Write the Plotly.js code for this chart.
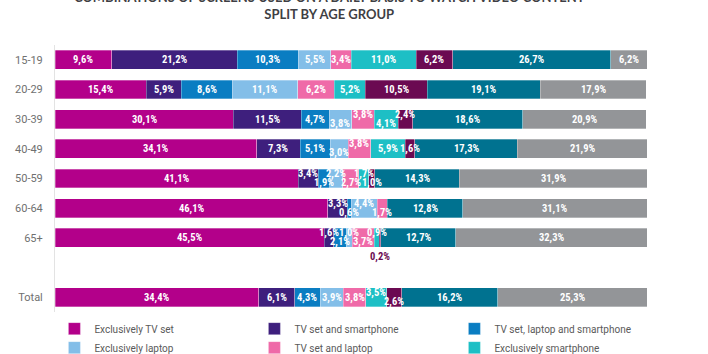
<!DOCTYPE html>
<html>
<head>
<meta charset="utf-8">
<script src="https://cdn.plot.ly/plotly-3.0.1.min.js"></script>
<style>html,body{margin:0;padding:0;background:#fff;}#chart{width:708px;height:354px;}</style>
</head>
<body>
<div id="chart"></div>
<script>
// ---- data ----
var groups = ['15-19','20-29','30-39','40-49','50-59','60-64','65+','Total'];
var rowOrder = ['15-19','20-29','30-39','40-49','50-59','60-64','65+',' ','Total'];
var seriesNames = ['Exclusively TV set','TV set and smartphone','TV set, laptop and smartphone',
  'Exclusively laptop','TV set and laptop','Exclusively smartphone',
  'Laptop and smartphone','Desktop/other combinations','Other'];
var exclusivelyTV        = [9.6, 15.4, 30.1, 34.1, 41.1, 46.1, 45.5, 34.4];
var tvSmartphone         = [21.2, 5.9, 11.5, 7.3, 3.4, 3.3, 1.6, 6.1];
var tvLaptopSmartphone   = [10.3, 8.6, 4.7, 5.1, 1.9, 0.6, 2.1, 4.3];
var exclusivelyLaptop    = [5.5, 11.1, 3.8, 3.0, 2.2, 4.4, 1.0, 3.9];
var tvLaptop             = [3.4, 6.2, 3.8, 3.8, 2.7, 1.7, 3.7, 3.8];
var exclusivelySmartphone= [11.0, 5.2, 4.1, 5.9, 1.7, 0, 0.9, 3.5];
var laptopSmartphone     = [6.2, 10.5, 2.4, 1.6, 1.0, 0, 0.2, 2.6];
var otherCombos          = [26.7, 19.1, 18.6, 17.3, 14.3, 12.8, 12.7, 16.2];
var other                = [6.2, 17.9, 20.9, 21.9, 31.9, 31.1, 32.3, 25.3];
var seriesValues = [exclusivelyTV, tvSmartphone, tvLaptopSmartphone, exclusivelyLaptop,
  tvLaptop, exclusivelySmartphone, laptopSmartphone, otherCombos, other];

// ---- style ----
var colors = ['#b3008a','#3e1f7d','#0a7dc2','#83bee8','#ef6aa8','#1dbfc5','#6b0a52','#007290','#939598'];
// label vertical shifts (px) per group row, per series: + up, - down
var U = 5, D = -4;
var shifts = {
  '30-39': [0,0,0,D,U,D,U,0,0],
  '40-49': [0,0,0,D,U,0,0,0,0],
  '50-59': [0,U,D,U,D,U,D,0,0],
  '60-64': [0,U,D,U,D,0,0,0,0],
  '65+':   [0,U,D,U,D,U,-19,0,0],
  'Total': [0,0,0,0,0,U,D,0,0]
};

var traces = seriesNames.map(function(name, i){
  return {
    type: 'bar', orientation: 'h', name: name,
    x: seriesValues[i], y: groups,
    marker: {color: colors[i], line: {width: 0.6, color: 'rgba(255,255,255,0.5)'}},
    hoverinfo: 'x+name'
  };
});

var annotations = [];
groups.forEach(function(g, r){
  var cum = 0;
  seriesValues.forEach(function(vals, i){
    var v = vals[r];
    if (v > 0) {
      var s = (shifts[g] || [])[i] || 0;
      var below = s < -10;
      annotations.push({
        x: cum + v/2, y: g, xref: 'x', yref: 'y',
        text: v.toFixed(1).replace('.', ',') + '%',
        showarrow: false, yshift: s,
        font: {family: 'Roboto Condensed, Roboto, sans-serif', size: 10.5,
               color: below ? colors[i] : '#ffffff', weight: 'bold'}
      });
    }
    cum += v;
  });
});

var layout = {
  width: 708, height: 354,
  margin: {l: 55, r: 61, t: 45, b: 42, autoexpand: false},
  paper_bgcolor: '#ffffff', plot_bgcolor: '#ffffff',
  barmode: 'stack', bargap: 0.36,
  showlegend: true,
  title: {
    text: 'COMBINATIONS OF SCREENS USED ON A DAILY BASIS TO WATCH VIDEO CONTENT<br>SPLIT BY AGE GROUP',
    font: {family: 'Lato, Roboto, sans-serif', size: 13, color: '#3f3f44', weight: 'bold'},
    x: 0.465, xanchor: 'center', yref: 'container', y: 0.995, yanchor: 'bottom'
  },
  xaxis: {range: [0, 100], visible: false, fixedrange: true},
  yaxis: {
    type: 'category', categoryorder: 'array', categoryarray: rowOrder,
    autorange: 'reversed', showline: true, linecolor: '#e3e3e3', linewidth: 1,
    showgrid: false, zeroline: false, ticks: '', ticklabelstandoff: 9,
    tickfont: {family: 'Roboto, sans-serif', size: 11, color: '#707070'}
  },
  legend: {
    orientation: 'h', xref: 'paper', x: -0.001, xanchor: 'left',
    yref: 'paper', y: -0.008, yanchor: 'top',
    entrywidth: 155, entrywidthmode: 'pixels',
    font: {family: 'Roboto, sans-serif', size: 10, color: '#5a5a5a'},
    traceorder: 'normal', itemclick: false
  },
  annotations: annotations
};

Plotly.newPlot('chart', traces, layout, {displayModeBar: false, staticPlot: true});
</script>
</body>
</html>
